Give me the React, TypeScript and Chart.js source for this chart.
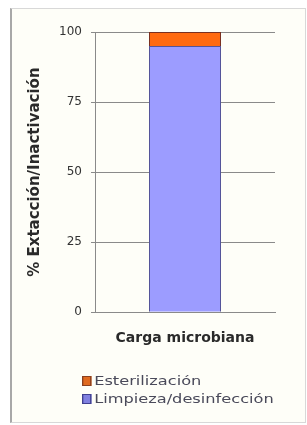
import React, { useEffect, useRef } from "react";
import { Chart, registerables } from "chart.js";

Chart.register(...registerables);

const categories = ["Carga microbiana"];
const limpiezaValues = [95];
const esterilizacionValues = [5];
const yTicks = [0, 25, 50, 75, 100];
const yTitle = "% Extacción/Inactivación";
const xTitle = "Carga microbiana";
const legendLabels = ["Esterilización", "Limpieza/desinfección"];
const FONT = "'DejaVu Sans', Verdana, sans-serif";

export default function App() {
  const ref = useRef<HTMLCanvasElement | null>(null);

  useEffect(() => {
    if (!ref.current) return;
    const chart = new Chart(ref.current, {
      type: "bar",
      data: {
        labels: categories,
        datasets: [
          {
            label: legendLabels[1],
            data: limpiezaValues,
            backgroundColor: "#9c9cff",
            borderColor: "#54549a",
            borderWidth: 1,
            barPercentage: 0.8,
            categoryPercentage: 0.5,
          },
          {
            label: legendLabels[0],
            data: esterilizacionValues,
            backgroundColor: "#ff6a10",
            borderColor: "#7a3020",
            borderWidth: 1,
            barPercentage: 0.8,
            categoryPercentage: 0.5,
          },
        ],
      },
      options: {
        animation: false,
        responsive: false,
        maintainAspectRatio: false,
        layout: { padding: { left: 26, top: 32, right: 32, bottom: 78 } },
        plugins: { legend: { display: false }, tooltip: { enabled: false } },
        scales: {
          x: {
            stacked: true,
            grid: { display: false, drawTicks: false },
            border: { display: true, color: "#8a8a8a", width: 1 },
            ticks: { display: false },
            title: {
              display: true,
              text: xTitle,
              color: "#2a2a2a",
              font: { family: FONT, size: 14, weight: "bold" },
              padding: { top: 18, bottom: 0 },
            },
          },
          y: {
            stacked: true,
            min: 0,
            max: 100,
            afterBuildTicks: (s: any) => {
              s.ticks = yTicks.map((v) => ({ value: v }));
            },
            grid: { color: "#8a8a8a", tickLength: 4, lineWidth: 1 },
            border: { display: true, color: "#8a8a8a", width: 1 },
            ticks: {
              color: "#333",
              padding: 9,
              font: { family: FONT, size: 12 },
            },
            title: {
              display: true,
              text: yTitle,
              color: "#2a2a2a",
              font: { family: FONT, size: 15, weight: "bold" },
              padding: { top: 0, bottom: 0 },
            },
            afterFit: (s: any) => {
              s.width = 69;
            },
          },
        },
      },
    });
    return () => chart.destroy();
  }, []);

  const legendColors = [
    { bg: "#e06a20", border: "#8a4020" },
    { bg: "#8080e0", border: "#404090" },
  ];

  return (
    <div style={{ position: "fixed", left: 0, top: 0, width: 307, height: 425, background: "#ffffff" }}>
      <div
        style={{
          position: "absolute",
          left: 10,
          top: 8,
          width: 293,
          height: 413,
          background: "#fefef8",
          borderTop: "1px solid #d8d8d8",
          borderRight: "1px solid #d8d8d8",
          borderBottom: "1px solid #d8d8d8",
          borderLeft: "2px solid #a8a8a8",
        }}
      />
      <canvas ref={ref} width={307} height={425} style={{ position: "absolute", left: 0, top: 0 }} />
      <div
        style={{
          position: "absolute",
          left: 82,
          top: 372,
          fontFamily: FONT,
          fontSize: 12,
          color: "#4a4a5a",
          lineHeight: "18px",
          transform: "scaleX(1.35)",
          transformOrigin: "left center",
        }}
      >
        {legendLabels.map((l, i) => (
          <div key={l} style={{ display: "flex", alignItems: "center", whiteSpace: "nowrap" }}>
            <span
              style={{
                display: "inline-block",
                width: 5,
                height: 8,
                background: legendColors[i].bg,
                border: `1px solid ${legendColors[i].border}`,
                marginRight: 2,
              }}
            />
            <span>{l}</span>
          </div>
        ))}
      </div>
    </div>
  );
}
